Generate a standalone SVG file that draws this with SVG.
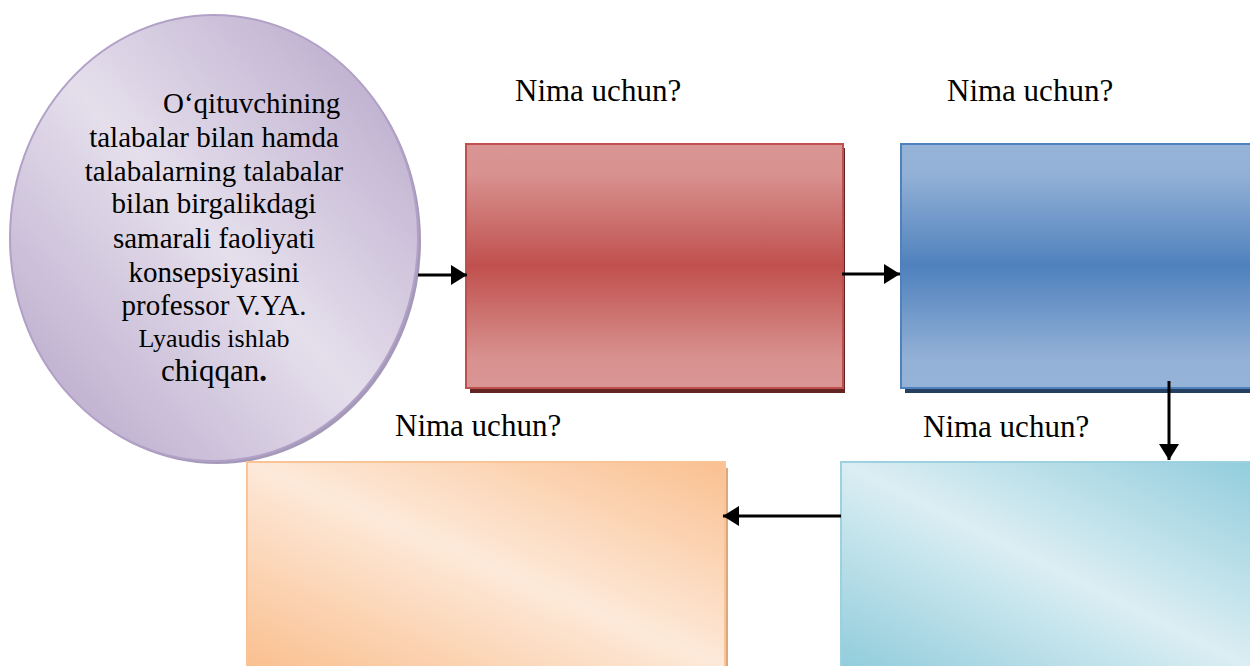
<svg xmlns="http://www.w3.org/2000/svg" width="1250" height="666" viewBox="0 0 1250 666">
<style>
.t{font-family:"Liberation Serif","Times New Roman",serif;fill:#000}
.lbl{font-size:31px}
.body{font-size:29px;text-anchor:middle}
.conn{stroke:#000;stroke-width:3;fill:none;marker-end:url(#ah)}
</style>
<defs>
<marker id="ah" viewBox="0 0 16 20" refX="16" refY="10" markerWidth="16" markerHeight="20" markerUnits="userSpaceOnUse" orient="auto">
<path d="M0,0 L16,10 L0,20 Z" fill="#000"/>
</marker>
<linearGradient id="gPurple" x1="1" y1="0" x2="0" y2="1">
<stop offset="0" stop-color="#b3a2c7"/>
<stop offset="0.5" stop-color="#e5dfec"/>
<stop offset="1" stop-color="#b3a2c7"/>
</linearGradient>
<linearGradient id="gRed" x1="0" y1="0" x2="0" y2="1">
<stop offset="0" stop-color="#d99694"/>
<stop offset="0.12" stop-color="#d89290"/>
<stop offset="0.5" stop-color="#c0504d"/>
<stop offset="0.88" stop-color="#d89290"/>
<stop offset="1" stop-color="#d99694"/>
</linearGradient>
<linearGradient id="gBlue" x1="0" y1="0" x2="0" y2="1">
<stop offset="0" stop-color="#95b3d7"/>
<stop offset="0.12" stop-color="#93b1d6"/>
<stop offset="0.5" stop-color="#4f81bd"/>
<stop offset="0.88" stop-color="#93b1d6"/>
<stop offset="1" stop-color="#95b3d7"/>
</linearGradient>
<linearGradient id="gOrange" gradientUnits="userSpaceOnUse" x1="560" y1="391" x2="412" y2="737">
<stop offset="0" stop-color="#fac090"/>
<stop offset="0.5" stop-color="#fde9d9"/>
<stop offset="1" stop-color="#fac090"/>
</linearGradient>
<linearGradient id="gCyan" gradientUnits="userSpaceOnUse" x1="1127" y1="401" x2="964" y2="727">
<stop offset="0" stop-color="#92cddc"/>
<stop offset="0.5" stop-color="#dbeef3"/>
<stop offset="1" stop-color="#92cddc"/>
</linearGradient>
</defs>
<rect width="1250" height="666" fill="#fff"/>

<g id="node-circle">
<ellipse cx="217" cy="241" rx="204" ry="223" fill="#8f7fa8" opacity="0.8"/>
<ellipse cx="214" cy="238" rx="204" ry="223" fill="url(#gPurple)" stroke="#b2a1c7" stroke-width="2"/>
<text class="t" x="163" y="113" style="font-size:29px">O‘qituvchining</text>
<text class="t body" x="214" y="147">talabalar bilan hamda</text>
<text class="t body" x="214" y="181">talabalarning talabalar</text>
<text class="t body" x="214" y="213">bilan birgalikdagi</text>
<text class="t body" x="214" y="248">samarali faoliyati</text>
<text class="t body" x="214" y="282">konsepsiyasini</text>
<text class="t body" x="214" y="315">professor V.YA.</text>
<text class="t body" x="214" y="347" style="font-size:26px">Lyaudis ishlab</text>
<text class="t body" x="214" y="381" style="font-size:31px">chiqqan<tspan font-weight="bold">.</tspan></text>
</g>

<g id="node-red">
<rect x="470" y="148" width="375" height="245" fill="#632523"/>
<rect x="466" y="144" width="377" height="244" fill="url(#gRed)" stroke="#c0504d" stroke-width="2"/>
</g>

<g id="node-blue">
<rect x="905" y="148" width="360" height="245" fill="#243f60"/>
<rect x="901" y="144" width="360" height="244" fill="url(#gBlue)" stroke="#4f81bd" stroke-width="2"/>
</g>

<g id="node-cyan">
<rect x="841" y="462" width="420" height="215" fill="url(#gCyan)" stroke="#9dd1df" stroke-width="2"/>
</g>

<g id="node-orange">
<rect x="250" y="468" width="478" height="210" fill="#d9a87e"/>
<rect x="247" y="462" width="478" height="215" fill="url(#gOrange)" stroke="#fbc497" stroke-width="2"/>
</g>

<g id="labels">
<text class="t lbl" x="515" y="101">Nima uchun?</text>
<text class="t lbl" x="947" y="101">Nima uchun?</text>
<text class="t lbl" x="395" y="436">Nima uchun?</text>
<text class="t lbl" x="923" y="437">Nima uchun?</text>
</g>

<g id="connectors">
<line class="conn" x1="418" y1="275" x2="467" y2="275"/>
<line class="conn" x1="842" y1="274" x2="900" y2="274"/>
<line class="conn" x1="1169" y1="381" x2="1169" y2="460"/>
<line class="conn" x1="841" y1="516" x2="723" y2="516"/>
</g>
</svg>
